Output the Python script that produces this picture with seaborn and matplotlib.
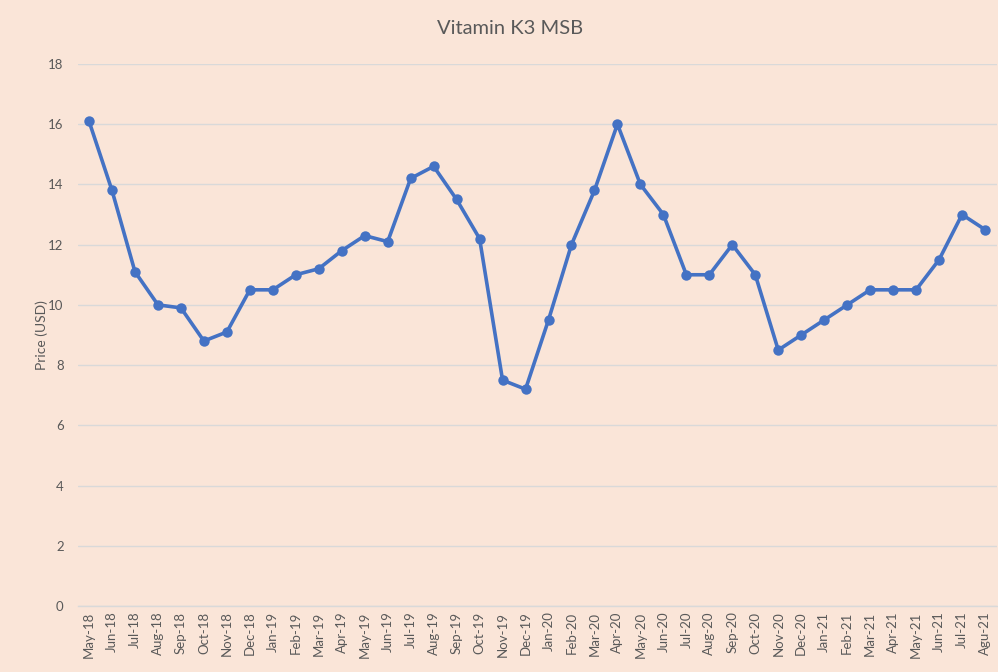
import pandas as pd
import numpy as np
import matplotlib.pyplot as plt
import seaborn as sns

months = ['May-18', 'Jun-18', 'Jul-18', 'Aug-18', 'Sep-18', 'Oct-18', 'Nov-18', 'Dec-18',
          'Jan-19', 'Feb-19', 'Mar-19', 'Apr-19', 'May-19', 'Jun-19', 'Jul-19', 'Aug-19',
          'Sep-19', 'Oct-19', 'Nov-19', 'Dec-19', 'Jan-20', 'Feb-20', 'Mar-20', 'Apr-20',
          'May-20', 'Jun-20', 'Jul-20', 'Aug-20', 'Sep-20', 'Oct-20', 'Nov-20', 'Dec-20',
          'Jan-21', 'Feb-21', 'Mar-21', 'Apr-21', 'May-21', 'Jun-21', 'Jul-21', 'Agu-21']
prices = [16.1, 13.8, 11.1, 10.0, 9.9, 8.8, 9.1, 10.5, 10.5, 11.0, 11.2, 11.8, 12.3, 12.1,
          14.2, 14.6, 13.5, 12.2, 7.5, 7.2, 9.5, 12.0, 13.8, 16.0, 14.0, 13.0, 11.0, 11.0,
          12.0, 11.0, 8.5, 9.0, 9.5, 10.0, 10.5, 10.5, 10.5, 11.5, 13.0, 12.5]

df = pd.DataFrame({'pos': np.arange(len(months)), 'month': months, 'price': prices})

bg = '#FAE5D8'
grey = '#595959'

sns.set_style('white')
plt.rcParams['font.family'] = ['Lato', 'DejaVu Sans']

fig = plt.figure(figsize=(9.98, 6.72), dpi=100, facecolor=bg)
ax = fig.add_axes([0.0777, 0.0982, 0.9208, 0.8066])
ax.set_facecolor(bg)

sns.lineplot(data=df, x='pos', y='price', ax=ax, color='#4472C4', linewidth=2.6,
             marker='o', markersize=7.5, markeredgewidth=0)

ax.set_ylim(0, 18)
ax.set_yticks(range(0, 19, 2))
ax.set_xlim(-0.5, len(months) - 0.5)
ax.set_xticks(df['pos'])
ax.set_xticklabels(months, rotation=90, fontsize=9.5, color=grey)
ax.set_xticks(np.arange(-0.5, len(months), 1), minor=True)
ax.tick_params(axis='x', which='major', length=0, pad=4)
ax.tick_params(axis='x', which='minor', length=4, color='#D9D9D9', width=1)
ax.tick_params(axis='y', length=0, labelsize=9.5, labelcolor=grey, pad=10)

ax.grid(axis='y', color='#D9D9D9', linewidth=1)
ax.set_axisbelow(True)
for side in ['top', 'right', 'left']:
    ax.spines[side].set_visible(False)
ax.spines['bottom'].set_color('#D9D9D9')
ax.spines['bottom'].set_linewidth(1)

ax.set_xlabel('')
ax.set_ylabel('Price (USD)', fontsize=10, color=grey, labelpad=0)
fig.text(0.511, 0.958, 'Vitamin K3 MSB', ha='center', va='center', fontsize=14.5, color=grey)

fig.savefig('out.png', dpi=100, facecolor=bg)
